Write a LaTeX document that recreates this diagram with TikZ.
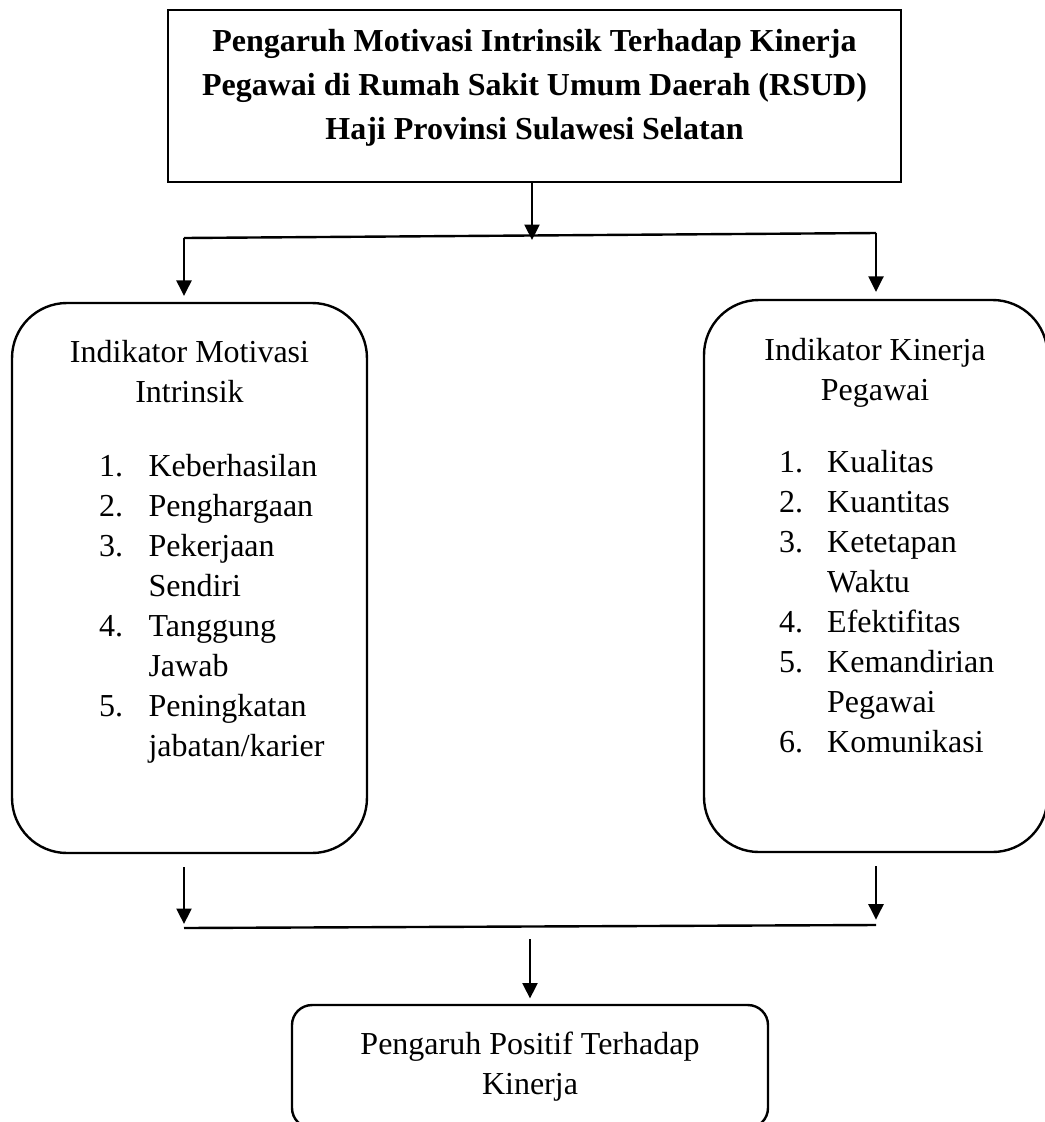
\documentclass[tikz,border=0pt]{standalone}
\usepackage{fontspec}
\setmainfont{Liberation Serif}
\usetikzlibrary{arrows.meta,positioning}

\tikzset{every picture/.style={line width=0.9pt}}
\tikzset{
  panah/.style={-{Triangle[width=5.6pt,length=5.8pt]}},
  kotakjudul/.style={draw, rectangle, inner sep=0pt},
  kotakindikator/.style={draw, rectangle, rounded corners=20.6pt, inner sep=0pt},
  kotakhasil/.style={draw, rectangle, rounded corners=7.5pt, inner sep=0pt},
  teks/.style={inner sep=0pt, font=\fontsize{12}{15}\selectfont},
}

\begin{document}
\begin{tikzpicture}[x=0.375pt,y=0.375pt,yscale=-1,xscale=1]
\useasboundingbox (0,0) rectangle (1045,1122);

%Shape: Rectangle [judul]
\node[kotakjudul, minimum width=274.9pt, minimum height=64.5pt] (judul) at (534.5,96) {};
% Text Node
\node[teks, anchor=north, align=center, font=\fontsize{12}{16.5}\selectfont\bfseries] (namajudul) at (534.5,28) {Pengaruh Motivasi Intrinsik Terhadap Kinerja\\Pegawai di Rumah Sakit Umum Daerah (RSUD)\\Haji Provinsi Sulawesi Selatan};

%Shape: Rounded Rect [kiri]
\node[kotakindikator, minimum width=133.1pt, minimum height=206.25pt] (kiri) at (189.5,578) {};
% Text Node
\node[teks, anchor=north, align=center] (judulkiri) at (189.5,339) {Indikator Motivasi\\Intrinsik};
% Text Node
\node[teks, anchor=north west] (daftarkiri) at (98,447) {\begin{tabular}{@{}l@{\hspace{9.5pt}}l@{}}
1. & Keberhasilan\\
2. & Penghargaan\\
3. & Pekerjaan\\
   & Sendiri\\
4. & Tanggung\\
   & Jawab\\
5. & Peningkatan\\
   & jabatan/karier
\end{tabular}};

%Shape: Rounded Rect [kanan]
\node[kotakindikator, minimum width=128.8pt, minimum height=207pt] (kanan) at (875.75,576) {};
% Text Node
\node[teks, anchor=north, align=center] (judulkanan) at (875,337) {Indikator Kinerja\\Pegawai};
% Text Node
\node[teks, anchor=north west] (daftarkanan) at (778,443) {\begin{tabular}{@{}l@{\hspace{9pt}}l@{}}
1. & Kualitas\\
2. & Kuantitas\\
3. & Ketetapan\\
   & Waktu\\
4. & Efektifitas\\
5. & Kemandirian\\
   & Pegawai\\
6. & Komunikasi
\end{tabular}};

%Shape: Rounded Rect [hasil]
\node[kotakhasil, minimum width=178.5pt, minimum height=46.1pt] (hasil) at (530,1066.5) {};
% Text Node
\node[teks, anchor=north, align=center] (teshasil) at (530,1031) {Pengaruh Positif Terhadap\\Kinerja};

%Straight Lines [cabang]
\coordinate (cabangL) at (184,238);
\coordinate (cabangM) at (532,236);
\coordinate (cabangR) at (876,233);
\draw[panah, shorten >=-1.5pt] (judul.south -| cabangM) -- (cabangM);
\draw (cabangL) -- (cabangR);
\draw[panah, shorten >=2.2pt] (cabangL) -- (kiri.north -| cabangL);
\draw[panah, shorten >=2.6pt] (cabangR) -- (kanan.north -| cabangR);

%Straight Lines [gabung]
\coordinate (gabungL) at (184,928);
\coordinate (gabungM) at (530,927);
\coordinate (gabungR) at (876,925);
\draw[panah, shorten <=4.8pt, shorten >=1.5pt] (kiri.south -| gabungL) -- (gabungL);
\draw[panah, shorten <=4.8pt, shorten >=2pt] (kanan.south -| gabungR) -- (gabungR);
\draw (gabungL) -- (gabungR);
\draw[panah, shorten <=4.5pt, shorten >=2pt] (gabungM) -- (hasil.north);

\end{tikzpicture}
\end{document}
